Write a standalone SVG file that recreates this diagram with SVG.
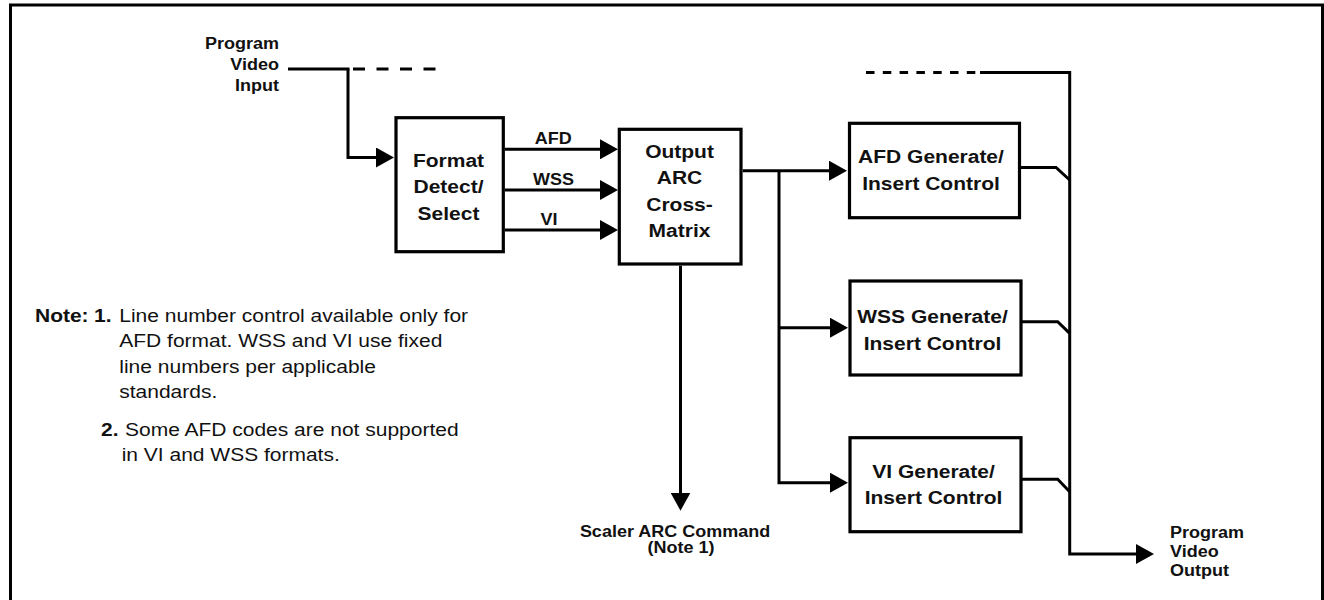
<svg xmlns="http://www.w3.org/2000/svg" width="1324" height="600" viewBox="0 0 1324 600">
<style>
.box{fill:#fff;stroke:#000;stroke-width:3.2}
.ln{fill:none;stroke:#000;stroke-width:3;stroke-linejoin:miter}
.t{font-family:"Liberation Sans",Arial,sans-serif;font-weight:bold;font-size:21px;fill:#111;text-anchor:middle}
.lb{font-family:"Liberation Sans",Arial,sans-serif;font-weight:bold;font-size:18px;fill:#111;text-anchor:middle}
.io{font-family:"Liberation Sans",Arial,sans-serif;font-weight:bold;font-size:18px;fill:#111}
.n{font-family:"Liberation Sans",Arial,sans-serif;font-size:21px;fill:#111}
.nb{font-weight:bold}
</style>
<defs>
<marker id="ah" markerUnits="userSpaceOnUse" markerWidth="18" markerHeight="20" refX="10" refY="10" orient="auto">
<path d="M0,0 L18,10 L0,20 z" fill="#000"/>
</marker>
</defs>
<rect x="10.5" y="5" width="1312" height="620" fill="none" stroke="#000" stroke-width="3"/>

<g id="connectors">
<path class="ln" d="M288,69 H349.5"/>
<path class="ln" d="M353,69 H437" stroke-dasharray="12 11.5"/>
<path class="ln" d="M348,69 V157.5 H386" marker-end="url(#ah)"/>
<path class="ln" d="M505,149.3 H610" marker-end="url(#ah)"/>
<path class="ln" d="M505,190 H610" marker-end="url(#ah)"/>
<path class="ln" d="M505,230 H610" marker-end="url(#ah)"/>
<path class="ln" d="M680.5,265.7 V502.7" marker-end="url(#ah)"/>
<path class="ln" d="M742.7,170.7 H839" marker-end="url(#ah)"/>
<path class="ln" d="M779,170.7 V482.7 H840" marker-end="url(#ah)"/>
<path class="ln" d="M779,327.7 H840" marker-end="url(#ah)"/>
<path class="ln" d="M866,72.5 H977" stroke-dasharray="8.5 8.3"/>
<path class="ln" d="M980,72.5 H1069.7 V554 H1146" marker-end="url(#ah)"/>
<path class="ln" d="M1021,167.5 H1056 L1069.7,180"/>
<path class="ln" d="M1021,321.7 H1057.7 L1069.7,333.3"/>
<path class="ln" d="M1021,479.3 H1057.7 L1069.7,491.7"/>
</g>

<g id="label-input">
<text class="io" text-anchor="end" transform="translate(279,48.5) scale(1,.92)">Program</text>
<text class="io" text-anchor="end" transform="translate(279,70) scale(1,.92)">Video</text>
<text class="io" text-anchor="end" transform="translate(279,90.5) scale(1,.92)">Input</text>
</g>

<g id="format-detect">
<rect class="box" x="396" y="117.7" width="107.3" height="134"/>
<text class="t" transform="translate(448.5,166.7) scale(1,.88)">Format</text>
<text class="t" transform="translate(448.5,193.3) scale(1,.88)">Detect/</text>
<text class="t" transform="translate(448.5,220) scale(1,.88)">Select</text>
</g>

<g id="signal-labels">
<text class="lb" transform="translate(553.3,144) scale(1,.88)">AFD</text>
<text class="lb" transform="translate(553.5,185) scale(1,.88)">WSS</text>
<text class="lb" transform="translate(549,225) scale(1,.88)">VI</text>
</g>

<g id="output-arc">
<rect class="box" x="619.3" y="129.3" width="121.7" height="134.7"/>
<text class="t" transform="translate(679.5,157.5) scale(1,.88)">Output</text>
<text class="t" transform="translate(679.5,184) scale(1,.88)">ARC</text>
<text class="t" transform="translate(679.5,210.5) scale(1,.88)">Cross-</text>
<text class="t" transform="translate(679.5,237) scale(1,.88)">Matrix</text>
</g>

<g id="afd-gen">
<rect class="box" x="849.5" y="123.3" width="170" height="94.4"/>
<text class="t" transform="translate(931,163.3) scale(1,.88)">AFD Generate/</text>
<text class="t" transform="translate(931,190) scale(1,.88)">Insert Control</text>
</g>

<g id="wss-gen">
<rect class="box" x="850" y="281" width="171" height="94"/>
<text class="t" transform="translate(932.5,323.3) scale(1,.88)">WSS Generate/</text>
<text class="t" transform="translate(932.5,350) scale(1,.88)">Insert Control</text>
</g>

<g id="vi-gen">
<rect class="box" x="850" y="437.7" width="171" height="94"/>
<text class="t" transform="translate(933.5,478) scale(1,.88)">VI Generate/</text>
<text class="t" transform="translate(933.5,504) scale(1,.88)">Insert Control</text>
</g>

<g id="label-scaler">
<text class="io" text-anchor="middle" font-size="18.4" transform="translate(675,536.5) scale(1,.87)">Scaler ARC Command</text>
<text class="io" text-anchor="middle" font-size="18.4" transform="translate(681,552.5) scale(1,.87)">(Note 1)</text>
</g>

<g id="label-output">
<text class="io" transform="translate(1170,538) scale(1,.92)">Program</text>
<text class="io" transform="translate(1170,557) scale(1,.92)">Video</text>
<text class="io" transform="translate(1170,576) scale(1,.92)">Output</text>
</g>

<g id="notes">
<text class="n" transform="translate(0,321.5) scale(1,.88)"><tspan class="nb" x="35">Note:</tspan><tspan class="nb" x="94">1.</tspan><tspan x="119.3">Line number control available only for</tspan></text>
<text class="n" x="119.3" transform="translate(0,347) scale(1,.88)">AFD format. WSS and VI use fixed</text>
<text class="n" x="119.3" transform="translate(0,372.5) scale(1,.88)">line numbers per applicable</text>
<text class="n" x="119.3" transform="translate(0,398) scale(1,.88)">standards.</text>
<text class="n" transform="translate(0,436) scale(1,.88)"><tspan class="nb" x="101">2.</tspan><tspan x="125">Some AFD codes are not supported</tspan></text>
<text class="n" x="121.7" transform="translate(0,461) scale(1,.88)">in VI and WSS formats.</text>
</g>
</svg>
